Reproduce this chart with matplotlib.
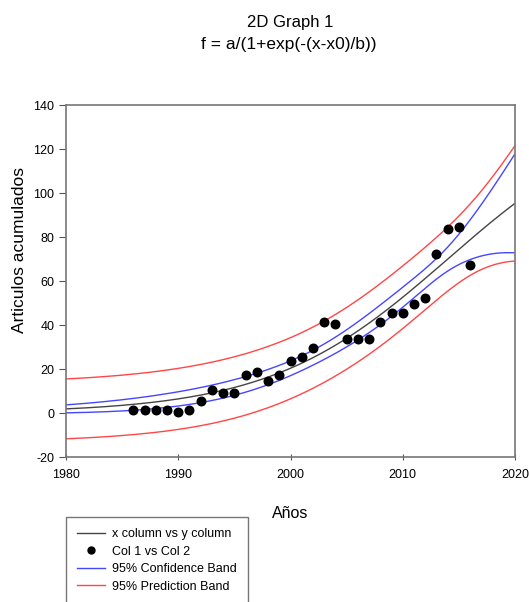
import numpy as np
import matplotlib
matplotlib.use("Agg")
import matplotlib.pyplot as plt
from matplotlib.lines import Line2D

plt.rcParams['font.family'] = ['Liberation Sans', 'DejaVu Sans']
plt.rcParams['axes.unicode_minus'] = False

# data
years = [1986, 1987, 1988, 1989, 1990, 1991, 1992, 1993, 1994, 1995, 1996,
         1997, 1998, 1999, 2000, 2001, 2002, 2003, 2004, 2005, 2006, 2007,
         2008, 2009, 2010, 2011, 2012, 2013, 2014, 2015, 2016]
articles = [1.5, 1.5, 1.5, 1.5, 0.5, 1.5, 5.5, 10.5, 9, 9, 17.5,
            18.5, 14.5, 17.5, 23.5, 25.5, 29.5, 41.5, 40.5, 33.5, 33.5, 33.5,
            41.5, 45.5, 45.5, 49.5, 52.5, 72.5, 83.5, 84.5, 67.5]
xticks = [1980, 1990, 2000, 2010, 2020]
yticks = [-20, 0, 20, 40, 60, 80, 100, 120, 140]

x = np.array(years, float)
y = np.array(articles, float)


def model(p, xx):
    a, x0, b = p
    return a / (1 + np.exp(-(xx - x0) / b))


def jac(p, xx):
    a, x0, b = p
    e = np.exp(-(xx - x0) / b)
    d = 1 + e
    da = 1 / d
    dx0 = -a * e / d**2 / b
    db = -a * e * (xx - x0) / (b**2 * d**2)
    return np.column_stack([da, dx0, db])


# Levenberg-Marquardt fit of the logistic model
p = np.array([120.0, 2010.0, 7.5])
lam = 1e-3
for _ in range(500):
    r = y - model(p, x)
    J = jac(p, x)
    A = J.T @ J
    g = J.T @ r
    step = np.linalg.solve(A + lam * np.diag(np.diag(A)), g)
    pn = p + step
    if np.sum((y - model(pn, x))**2) < np.sum(r**2):
        p = pn
        lam *= 0.3
    else:
        lam *= 10

n, k = len(x), 3
res = y - model(p, x)
s2 = np.sum(res**2) / (n - k)
cov = s2 * np.linalg.inv(jac(p, x).T @ jac(p, x))
tval = 2.048

xf = np.linspace(1980, 2020, 400)
yf = model(p, xf)
Jf = jac(p, xf)
var_f = np.einsum('ij,jk,ik->i', Jf, cov, Jf)
conf = tval * np.sqrt(var_f)
pred = tval * np.sqrt(var_f + s2)

fig = plt.figure(figsize=(5.29, 6.02), dpi=100)
ax = fig.add_axes([66 / 529, 1 - 457 / 602, (515 - 66) / 529, (457 - 105) / 602])

blue = '#4646ff'
red = '#ff4646'
ax.plot(xf, yf, color='#444444', lw=1.0)
ax.plot(xf, yf + conf, color=blue, lw=1.0)
ax.plot(xf, yf - conf, color=blue, lw=1.0)
ax.plot(xf, yf + pred, color=red, lw=1.0)
ax.plot(xf, yf - pred, color=red, lw=1.0)
ax.scatter(x, y, s=38, color='black', zorder=5)

ax.set_xlim(1980, 2020)
ax.set_ylim(-20, 140)
ax.set_xticks(xticks)
ax.set_yticks(yticks)
ax.tick_params(axis='x', direction='inout', length=5, labelsize=9, pad=6, color='#555555')
ax.tick_params(axis='y', direction='out', length=5, labelsize=9, color='#555555')
for sp in ax.spines.values():
    sp.set_color('#777777')
    sp.set_linewidth(1.2)

ax.set_xlabel('Años', fontsize=11.5, labelpad=18)
fig.text(20 / 529, 1 - 250 / 602, 'Articulos acumulados', rotation=90,
         ha='center', va='center', fontsize=12.5)

fig.text(290 / 529, 1 - 22 / 602, '2D Graph 1', ha='center', va='center', fontsize=12)
fig.text(289 / 529, 1 - 45 / 602, 'f = a/(1+exp(-(x-x0)/b))', ha='center', va='center', fontsize=12.5)

handles = [
    Line2D([], [], color='#444444', lw=1.0),
    Line2D([], [], color='black', marker='o', ls='none', markersize=5),
    Line2D([], [], color=blue, lw=1.0),
    Line2D([], [], color=red, lw=1.0),
]
labels = ['x column vs y column', 'Col 1 vs Col 2', '95% Confidence Band', '95% Prediction Band']
leg = fig.legend(handles, labels, loc='upper left',
                 bbox_to_anchor=(66 / 529, 1 - 517 / 602),
                 fontsize=9, frameon=True, fancybox=False, edgecolor='#555555',
                 borderpad=0.9, labelspacing=0.44, handlelength=2.2,
                 handletextpad=0.6, borderaxespad=0)
leg.get_frame().set_linewidth(1.0)

fig.savefig('out.png', dpi=100)
